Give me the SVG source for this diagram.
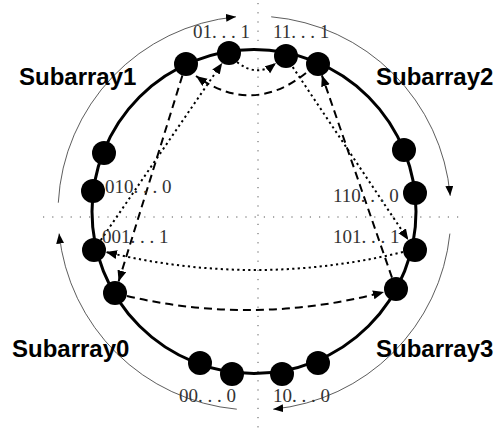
<svg xmlns="http://www.w3.org/2000/svg" width="498" height="432" viewBox="0 0 498 432">
<defs>
<marker id="ah" markerUnits="userSpaceOnUse" markerWidth="12" markerHeight="10" refX="11" refY="4.5" orient="auto" viewBox="0 0 12 10">
<path d="M0,0 L11,4.5 L0,9 z" fill="#000"/>
</marker>
<marker id="ahs" markerUnits="userSpaceOnUse" markerWidth="12" markerHeight="10" refX="10" refY="4" orient="auto" viewBox="0 0 12 10">
<path d="M0,0 L10,4 L0,8 z" fill="#000"/>
</marker>
</defs>
<style>
.axis{stroke:#555;stroke-width:1;stroke-dasharray:1.2 8;fill:none}
.ring{stroke:#000;stroke-width:3;fill:none}
.outer{stroke:#333;stroke-width:0.8;fill:none;marker-end:url(#ahs)}
.dash{stroke:#000;stroke-width:2;stroke-dasharray:8 5;fill:none;marker-end:url(#ah)}
.dot{stroke:#000;stroke-width:2;stroke-dasharray:2.2 3.3;fill:none;marker-end:url(#ah)}
.node{fill:#000}
.lbl{font-family:"Liberation Serif","Times New Roman",serif;font-size:19px;fill:#333}
.sub{font-family:"Liberation Sans",Arial,sans-serif;font-size:24px;font-weight:bold;fill:#000}
</style>
<rect width="498" height="432" fill="#fff"/>
<g id="axes">
<line class="axis" x1="43" y1="217" x2="462" y2="217"/>
<line class="axis" x1="258" y1="3" x2="258" y2="430"/>
</g>
<circle id="ring" class="ring" cx="254" cy="211.5" r="162"/>
<g id="outer-arrows">
<path class="outer" d="M58.3,202.7 A197,197 0 0 1 236,16.8"/>
<path class="outer" d="M271.2,16.8 A197,197 0 0 1 450.2,195.8"/>
<path class="outer" d="M449.9,233.6 A197,197 0 0 1 273.2,409.2"/>
<path class="outer" d="M236.8,409.2 A197,197 0 0 1 59.1,233.6"/>
</g>
<g id="connectors">
<path class="dot" d="M100.8,240.1 L222.2,62.9"/>
<path class="dash" d="M182.4,75.5 L118.6,281.5"/>
<path class="dash" d="M306,73 Q252,116 196,76"/>
<path class="dot" d="M237,62 Q257,78 276,63"/>
<path class="dot" d="M292.7,67 L408.3,240"/>
<path class="dash" d="M392,277.7 L321.9,75.3"/>
<path class="dot" d="M403,252 Q255,288 106,252"/>
<path class="dash" d="M127,296 Q255,326 384,292"/>
</g>
<g id="n01a"><circle class="node" cx="186" cy="64" r="12"/></g>
<g id="n01b"><circle class="node" cx="229" cy="53" r="12"/><text class="lbl" x="193" y="38">01. . . 1</text></g>
<g id="n11a"><circle class="node" cx="286" cy="56" r="12"/><text class="lbl" x="273" y="38">11. . . 1</text></g>
<g id="n11b"><circle class="node" cx="318" cy="64" r="12"/></g>
<g id="n010a"><circle class="node" cx="104" cy="153" r="12"/></g>
<g id="n010b"><circle class="node" cx="93" cy="191" r="12"/><text class="lbl" x="105" y="193">010. . . 0</text></g>
<g id="n110a"><circle class="node" cx="404" cy="150" r="12"/></g>
<g id="n110b"><circle class="node" cx="415" cy="193" r="12"/><text class="lbl" x="333" y="202">110. . . 0</text></g>
<g id="n001a"><circle class="node" cx="94" cy="250" r="12"/><text class="lbl" x="102" y="243">001. . . 1</text></g>
<g id="n001b"><circle class="node" cx="115" cy="293" r="12"/></g>
<g id="n101a"><circle class="node" cx="415" cy="250" r="12"/><text class="lbl" x="333" y="243">101. . . 1</text></g>
<g id="n101b"><circle class="node" cx="396" cy="289" r="12"/></g>
<g id="n00a"><circle class="node" cx="200" cy="363" r="12"/></g>
<g id="n00b"><circle class="node" cx="232" cy="374" r="12"/><text class="lbl" x="179" y="402">00. . . 0</text></g>
<g id="n10a"><circle class="node" cx="282" cy="374" r="12"/><text class="lbl" x="273" y="402">10. . . 0</text></g>
<g id="n10b"><circle class="node" cx="318" cy="363" r="12"/></g>
<g id="labels">
<text class="sub" x="19" y="85">Subarray1</text>
<text class="sub" x="376" y="85">Subarray2</text>
<text class="sub" x="12" y="357">Subarray0</text>
<text class="sub" x="376" y="357">Subarray3</text>
</g>
</svg>
